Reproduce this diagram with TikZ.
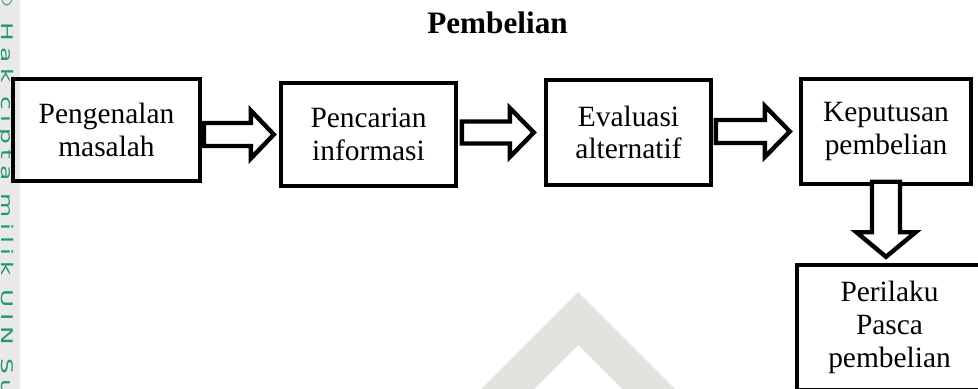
\documentclass[tikz,border=0pt]{standalone}
\usepackage{fontspec}
\setmainfont{Liberation Serif}
\newfontfamily\wmfont[LetterSpace=23]{DejaVu Sans}
\definecolor{wmgreen}{RGB}{38,152,104}
\definecolor{wmgray}{RGB}{225,227,223}
\definecolor{stripgray}{RGB}{233,233,233}
\tikzset{
  stepbox/.style={draw, line width=2.2pt, align=center, inner sep=0pt,
    font=\fontsize{14.7}{16.3}\selectfont},
  fatarrow/.style={draw, line width=2.2pt, fill=white},
}

\begin{document}
\begin{tikzpicture}[x=0.5pt,y=-0.5pt]
\clip (0,0) rectangle (978,389);
% watermark of the scan
\fill[stripgray] (0,0) rectangle (20,389);
\node[wmgreen, rotate=-90, xscale=1.55, anchor=base west, inner sep=0pt,
  font=\wmfont\fontsize{8}{10}\selectfont] (wmtext) at (1.5,-16)
  {© Hak cipta milik UIN Suska Riau};
\fill[wmgray] (458,412) -- (578,292) -- (698,412) -- (645,412)
  -- (578,345) -- (511,412) -- cycle;

\node[font=\bfseries\fontsize{15.6}{18}\selectfont, anchor=base] (title)
  at (497.5,34) {Pembelian};

% tahapan
\node[stepbox, minimum width=93.5pt, minimum height=51pt] (b1)
  at (106.5,130) {Pengenalan\\masalah};
\node[stepbox, minimum width=87.5pt, minimum height=51.5pt] (b2)
  at (368.5,134.5) {Pencarian\\informasi};
\node[stepbox, minimum width=82.5pt, minimum height=52.5pt] (b3)
  at (628.5,132.5) {Evaluasi\\alternatif};
\node[stepbox, minimum width=85pt, minimum height=52.5pt] (b4)
  at (886,131.5) {Keputusan\\pembelian};
\node[stepbox, minimum width=92.5pt, minimum height=62.5pt] (b5)
  at (889.5,327.5) {Perilaku\\Pasca\\pembelian};

% panah
\draw[fatarrow] ([xshift=-2.5pt]b2.west) -- ++(-23,-24) -- ++(0,12.5)
  -- ++(-47,0) -- ++(0,23) -- ++(47,0) -- ++(0,12.5) -- cycle;
\draw[fatarrow] ([xshift=-5pt]b3.west) -- ++(-24,-24.5) -- ++(0,13.5)
  -- ++(-48,0) -- ++(0,22) -- ++(48,0) -- ++(0,13.5) -- cycle;
\draw[fatarrow] ([xshift=-4.5pt]b4.west) -- ++(-25,-25.5) -- ++(0,14)
  -- ++(-49,0) -- ++(0,23) -- ++(49,0) -- ++(0,14) -- cycle;
\draw[fatarrow] ([yshift=3pt]b4.south |- b5.north) -- ++(-29.5,-24.5)
  -- ++(15.5,0) -- ++(0,-50.5) -- ++(28,0) -- ++(0,50.5) -- ++(15.5,0) -- cycle;
\end{tikzpicture}
\end{document}
